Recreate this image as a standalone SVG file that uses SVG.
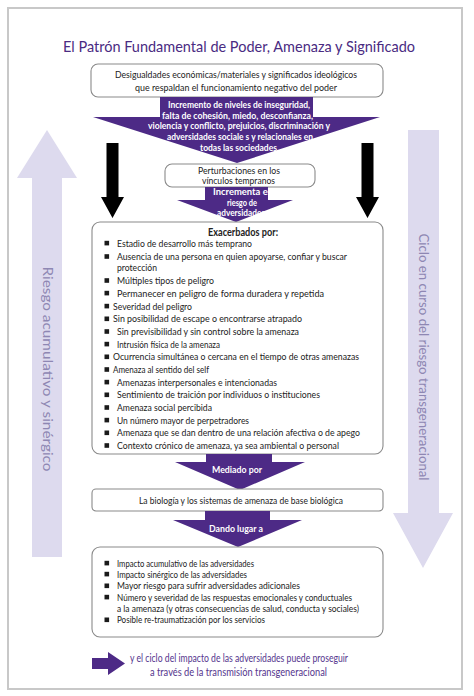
<svg xmlns="http://www.w3.org/2000/svg" width="474" height="696" viewBox="0 0 474 696">
<style>
.t{font-family:Lato,"Liberation Sans",sans-serif;font-size:10.3px;fill:#222}
.c{text-anchor:middle}
.b{font-weight:bold;fill:#fff;font-size:10px}
.h{font-weight:bold;fill:#222;font-size:10.5px}
.s{font-size:9.2px}
.box{fill:#fff;stroke:#8a8a8a;stroke-width:1.1}
.pur{fill:#4d2a86}
.blk{fill:#000}
.side{fill:#dddaee}
.st{font-size:12.5px;fill:#8e87b3;dominant-baseline:central}
.title{font-size:16px;fill:#4a2b82}
.bul{fill:#1a1a1a}
.foot{fill:#55368e;font-size:10.5px}
</style>
<defs>
<rect id="sq" width="4.6" height="4.6" class="bul"/>
</defs>
<rect x="8" y="8" width="454" height="681" fill="#fff" stroke="#c8c8c8" stroke-width="2"/>
<text id="title" class="t c title" x="239" y="52" textLength="352" lengthAdjust="spacingAndGlyphs">El Patrón Fundamental de Poder, Amenaza y Significado</text>

<g id="connectors">
<polygon class="side" points="32,557 62,557 62,178 77,178 47,130 17,178 32,178"/>
<polygon class="side" points="408,130 439,130 439,513 453,513 423,568 393,513 408,513"/>
<polygon class="blk" points="106.5,143 118.5,143 118.5,197 124,197 112.5,218 101,197 106.5,197"/>
<polygon class="blk" points="361.5,143 373.5,143 373.5,197 379,197 367.5,218 356,197 361.5,197"/>
<polygon class="pur" points="92,658 108,658 108,652 125,663.5 108,675 108,669 92,669"/>
</g>

<g id="side-left"><text class="t st c" x="47" y="369" transform="rotate(90 47 369)" textLength="205" lengthAdjust="spacingAndGlyphs">Riesgo acumulativo y sinérgico</text></g>
<g id="side-right"><text class="t st c" x="423.5" y="357" transform="rotate(90 423.5 357)" textLength="247" lengthAdjust="spacingAndGlyphs">Ciclo en curso del riesgo transgeneracional</text></g>

<g id="node-inequality">
<rect class="box" x="91" y="64" width="292" height="33" rx="7"/>
<text class="t c" x="236" y="77.5" textLength="242" lengthAdjust="spacingAndGlyphs">Desigualdades económicas/materiales y significados ideológicos</text>
<text class="t c" x="236" y="90.5" textLength="202" lengthAdjust="spacingAndGlyphs">que respaldan el funcionamiento negativo del poder</text>
</g>

<g id="node-increment">
<polygon class="pur" points="160,97 313,97 313,117 380,117 237,163 93,117 160,117"/>
<text class="t c b" x="239" y="108" textLength="142" lengthAdjust="spacingAndGlyphs">Incremento de niveles de inseguridad,</text>
<text class="t c b" x="237.5" y="118.5" textLength="151" lengthAdjust="spacingAndGlyphs">falta de cohesión, miedo, desconfianza,</text>
<text class="t c b" x="239" y="129" textLength="182" lengthAdjust="spacingAndGlyphs">violencia y conflicto, prejuicios, discriminación y</text>
<text class="t c b" x="240" y="139.5" textLength="146" lengthAdjust="spacingAndGlyphs">adversidades sociale s y relacionales en</text>
<text class="t c b" x="238.5" y="150.5" textLength="77" lengthAdjust="spacingAndGlyphs">todas las sociedades</text>
</g>

<g id="node-perturbaciones">
<rect class="box" x="165" y="164" width="150" height="23" rx="7"/>
<text class="t c s" x="239" y="174.3" textLength="82" lengthAdjust="spacingAndGlyphs">Perturbaciones en los</text>
<text class="t c s" x="238.5" y="184" textLength="73" lengthAdjust="spacingAndGlyphs">vínculos tempranos</text>
</g>

<g id="node-risk">
<polygon class="pur" points="205,187 268,187 268,200 293,200 236,222 177,200 205,200"/>
<text class="t c b" x="241.5" y="195" textLength="57" lengthAdjust="spacingAndGlyphs">Incrementa el</text>
<text class="t c b" x="242" y="205.5" textLength="30" lengthAdjust="spacingAndGlyphs">riesgo de</text>
<text class="t c b" x="241" y="216" textLength="48" lengthAdjust="spacingAndGlyphs">adversidades</text>
</g>

<g id="node-exacerbados">
<rect class="box" x="92" y="222" width="291" height="232" rx="8"/>
<text class="t c h" x="243" y="235.5" textLength="70" lengthAdjust="spacingAndGlyphs">Exacerbados por:</text>
<use href="#sq" x="104.5" y="240.8"/><text class="t" x="117" y="246.7" textLength="135" lengthAdjust="spacingAndGlyphs">Estadio de desarrollo más temprano</text>
<use href="#sq" x="104.5" y="254.2"/><text class="t" x="117" y="260.1" textLength="230" lengthAdjust="spacingAndGlyphs">Ausencia de una persona en quien apoyarse, confiar y buscar</text>
<text class="t" x="117" y="270.7" textLength="40" lengthAdjust="spacingAndGlyphs">protección</text>
<use href="#sq" x="104.5" y="278.2"/><text class="t" x="117" y="284.1" textLength="97" lengthAdjust="spacingAndGlyphs">Múltiples tipos de peligro</text>
<use href="#sq" x="104.5" y="290.8"/><text class="t" x="117" y="296.7" textLength="207" lengthAdjust="spacingAndGlyphs">Permanecer en peligro de forma duradera y repetida</text>
<use href="#sq" x="104.5" y="303.8"/><text class="t" x="113" y="309.7" textLength="79" lengthAdjust="spacingAndGlyphs">Severidad del peligro</text>
<use href="#sq" x="104.5" y="316.5"/><text class="t" x="113" y="322.4" textLength="189" lengthAdjust="spacingAndGlyphs">Sin posibilidad de escape o encontrarse atrapado</text>
<use href="#sq" x="104.5" y="329.2"/><text class="t" x="117" y="335.1" textLength="182" lengthAdjust="spacingAndGlyphs">Sin previsibilidad y sin control sobre la amenaza</text>
<use href="#sq" x="104.5" y="341.8"/><text class="t" x="117" y="347.7" textLength="103" lengthAdjust="spacingAndGlyphs">Intrusión física de la amenaza</text>
<use href="#sq" x="104.5" y="354.5"/><text class="t" x="113" y="360.4" textLength="246" lengthAdjust="spacingAndGlyphs">Ocurrencia simultánea o cercana en el tiempo de otras amenazas</text>
<use href="#sq" x="104.5" y="367.2"/><text class="t" x="113" y="373.1" textLength="96" lengthAdjust="spacingAndGlyphs">Amenaza al sentido del self</text>
<use href="#sq" x="104.5" y="379.8"/><text class="t" x="117" y="385.7" textLength="160" lengthAdjust="spacingAndGlyphs">Amenazas interpersonales e intencionadas</text>
<use href="#sq" x="104.5" y="392.5"/><text class="t" x="117" y="398.4" textLength="203" lengthAdjust="spacingAndGlyphs">Sentimiento de traición por individuos o instituciones</text>
<use href="#sq" x="104.5" y="405.2"/><text class="t" x="117" y="411.1" textLength="95" lengthAdjust="spacingAndGlyphs">Amenaza social percibida</text>
<use href="#sq" x="104.5" y="417.8"/><text class="t" x="117" y="423.7" textLength="132" lengthAdjust="spacingAndGlyphs">Un número mayor de perpetradores</text>
<use href="#sq" x="104.5" y="430.5"/><text class="t" x="117" y="436.4" textLength="243" lengthAdjust="spacingAndGlyphs">Amenaza que se dan dentro de una relación afectiva o de apego</text>
<use href="#sq" x="104.5" y="443.2"/><text class="t" x="117" y="449.1" textLength="222" lengthAdjust="spacingAndGlyphs">Contexto crónico de amenaza, ya sea ambiental o personal</text>
</g>

<g id="node-mediado">
<polygon class="pur" points="206,454 272,454 272,462 305,462 240,490 175,462 206,462"/>
<text class="t c b" x="237" y="472.5" textLength="50" lengthAdjust="spacingAndGlyphs">Mediado por</text>
</g>

<g id="node-biologia">
<rect class="box" x="92" y="489" width="291" height="22" rx="4"/>
<text class="t c" x="241" y="503.5" textLength="204" lengthAdjust="spacingAndGlyphs">La biología y los sistemas de amenaza de base biológica</text>
</g>

<g id="node-dando">
<polygon class="pur" points="205,511 270,511 270,520 302,520 238,547 173,520 205,520"/>
<text class="t c b" x="236" y="531.5" textLength="54" lengthAdjust="spacingAndGlyphs">Dando lugar a</text>
</g>

<g id="node-impacto">
<rect class="box" x="92" y="547" width="291" height="90" rx="8"/>
<use href="#sq" x="104.5" y="560.8"/><text class="t" x="117" y="566.7" textLength="137" lengthAdjust="spacingAndGlyphs">Impacto acumulativo de las adversidades</text>
<use href="#sq" x="104.5" y="571.8"/><text class="t" x="117" y="577.7" textLength="130" lengthAdjust="spacingAndGlyphs">Impacto sinérgico de las adversidades</text>
<use href="#sq" x="104.5" y="583.5"/><text class="t" x="117" y="589.4" textLength="183" lengthAdjust="spacingAndGlyphs">Mayor riesgo para sufrir adversidades adicionales</text>
<use href="#sq" x="104.5" y="594.8"/><text class="t" x="117" y="600.7" textLength="235" lengthAdjust="spacingAndGlyphs">Número y severidad de las respuestas emocionales y conductuales</text>
<text class="t" x="117" y="611.7" textLength="242" lengthAdjust="spacingAndGlyphs">a la amenaza (y otras consecuencias de salud, conducta y sociales)</text>
<use href="#sq" x="104.5" y="617.5"/><text class="t" x="117" y="623.4" textLength="148" lengthAdjust="spacingAndGlyphs">Posible re-traumatización por los servicios</text>
</g>

<g id="node-footer">
<text class="t c foot" x="239" y="661.5" textLength="218" lengthAdjust="spacingAndGlyphs">y el ciclo del impacto de las adversidades puede proseguir</text>
<text class="t c foot" x="238.5" y="675.5" textLength="177" lengthAdjust="spacingAndGlyphs">a través de la transmisión transgeneracional</text>
</g>
</svg>
